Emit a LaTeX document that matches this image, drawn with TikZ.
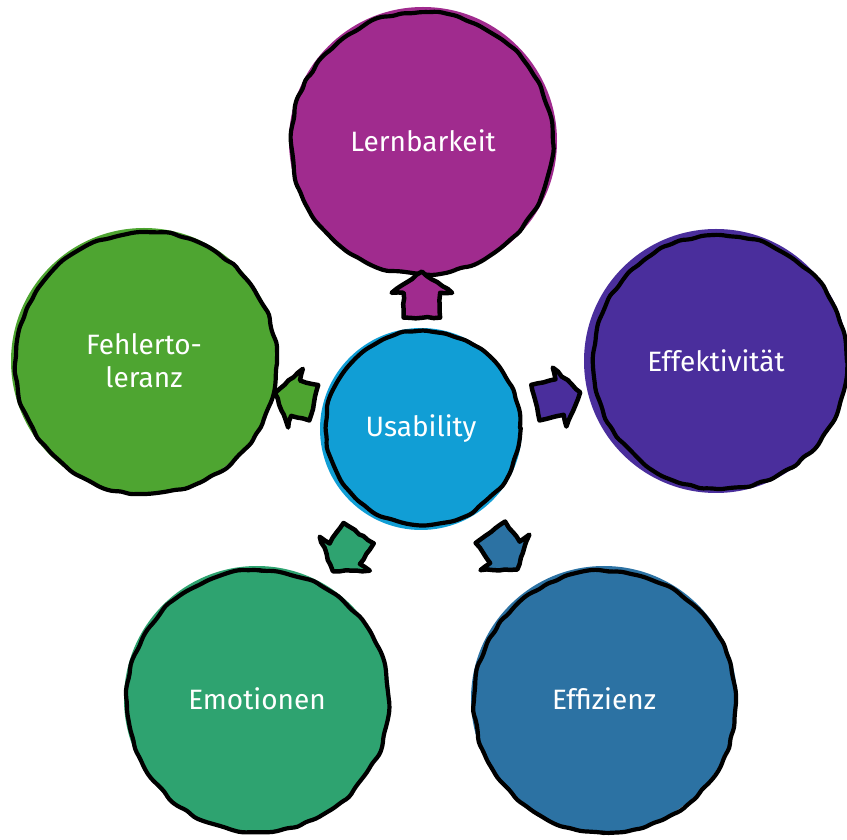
\documentclass[tikz,border=0pt]{standalone}
\usepackage{fontspec}
\setmainfont{Fira Sans}
\usetikzlibrary{shapes.arrows,decorations.pathmorphing,calc}
\definecolor{cLern}{HTML}{A02B8E}
\definecolor{cEffek}{HTML}{4A2E9C}
\definecolor{cFehler}{HTML}{4EA531}
\definecolor{cUsa}{HTML}{119ED5}
\definecolor{cEmo}{HTML}{2EA370}
\definecolor{cEffiz}{HTML}{2C72A3}
\begin{document}
\begin{tikzpicture}[x=1pt,y=1pt,
  bubble/.style={circle, inner sep=0pt, text=white, font=\fontsize{28}{33}\selectfont, align=center},
  sketch/.style={draw=black, line width=4.2pt, line join=round, line cap=round,
    decorate, decoration={random steps, segment length=10pt, amplitude=1.5pt}, rounded corners=4pt},
  blockarrow/.style={single arrow, draw=black, line width=4.5pt, line join=round,
    minimum height=46pt, single arrow head extend=12pt, single arrow tip angle=110,
    inner xsep=0pt, inner ysep=16pt,
    decorate, decoration={random steps, segment length=6pt, amplitude=0.8pt}}
]
\pgfmathsetseed{7}
\useasboundingbox (0,0) rectangle (847,839);
% fills
\node[bubble, fill=cLern, minimum size=268pt] (lern) at (423,698) {Lernbarkeit};
\node[bubble, fill=cEffek, minimum size=264pt] (effek) at (716,478) {Effektivität};
\node[bubble, fill=cFehler, minimum size=266pt] (fehler) at (144,478) {Fehlerto-\\leranz};
\node[bubble, fill=cUsa, minimum size=202pt] (usa) at (421,410) {Usability};
\node[bubble, fill=cEmo, minimum size=266pt] (emo) at (257,140) {Emotionen};
\node[bubble, fill=cEffiz, minimum size=266pt] (effiz) at (604,140) {Effizienz};
% sketchy outlines
\draw[sketch] ($(lern.center)+(-1,-2)$) circle (131);
\draw[sketch] ($(effek.center)+(4,-1)$) circle (127);
\draw[sketch] ($(fehler.center)+(2,-2)$) circle (131);
\draw[sketch] ($(usa.center)+(2,1)$) circle (97);
\draw[sketch] ($(emo.center)+(1,-2)$) circle (131);
\draw[sketch] ($(effiz.center)+(1,-3)$) circle (131);
% arrows
\node[blockarrow, fill=cLern, rotate=90] (a1) at ($(usa.center)!128pt!(lern.center)$) {};
\node[blockarrow, fill=cEffek, rotate=13] (a2) at ($(usa.center)!134pt!(effek.center)$) {};
\node[blockarrow, fill=cFehler, rotate=166, minimum height=40pt] (a3) at ($(usa.center)!124pt!(fehler.center)$) {};
\node[blockarrow, fill=cEmo, rotate=236] (a4) at ($(usa.center)!138pt!(emo.center)$) {};
\node[blockarrow, fill=cEffiz, rotate=-54] (a5) at ($(usa.center)!141pt!(effiz.center)$) {};
\end{tikzpicture}
\end{document}
